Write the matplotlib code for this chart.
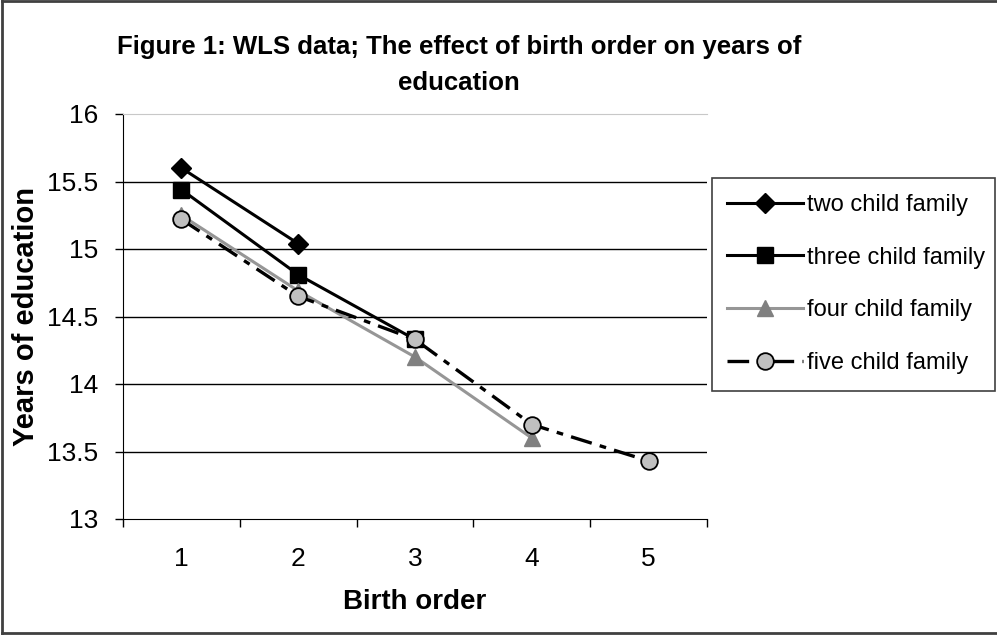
import matplotlib.pyplot as plt
from matplotlib.patches import Rectangle
from matplotlib.lines import Line2D
from matplotlib.ticker import FixedLocator

plt.rcParams['font.family'] = ['Liberation Sans', 'DejaVu Sans']

birth_order = [1, 2, 3, 4, 5]
two_child = [15.60, 15.04]
three_child = [15.44, 14.81, 14.33]
four_child = [15.25, 14.69, 14.20, 13.60]
five_child = [15.22, 14.65, 14.33, 13.70, 13.43]
y_ticks = [13, 13.5, 14, 14.5, 15, 15.5, 16]
y_tick_labels = ['13', '13.5', '14', '14.5', '15', '15.5', '16']

W, H = 997, 635
fig = plt.figure(figsize=(W / 100, H / 100), dpi=100)
ax = fig.add_axes([123 / W, 1 - 519 / H, (707 - 123) / W, (519 - 114) / H])

# series
ax.plot(birth_order[:2], two_child, color='black', lw=2.2, marker='D', ms=10,
        mfc='black', mec='black', label='two child family', zorder=4)
ax.plot(birth_order[:3], three_child, color='black', lw=2.2, marker='s', ms=12,
        mfc='black', mec='black', label='three child family', zorder=4)
ax.plot(birth_order[:4], four_child, color='#969696', lw=2.2, marker='^', ms=12,
        mfc='#808080', mec='#808080', label='four child family', zorder=5)
ax.plot(birth_order, five_child, color='black', lw=2.4, dashes=(6.5, 2.5, 2.0, 2.5),
        marker='o', ms=12, mfc='#c0c0c0', mec='black', mew=1.3,
        label='five child family', zorder=6)

# axes styling (Excel-like)
ax.set_xlim(0.5, 5.5)
ax.set_ylim(13, 16)
ax.set_yticks(y_ticks)
ax.set_yticklabels(y_tick_labels)
ax.xaxis.set_major_locator(FixedLocator([0.5, 1.5, 2.5, 3.5, 4.5, 5.5]))
ax.xaxis.set_minor_locator(FixedLocator(birth_order))
ax.set_xticklabels([])
ax.set_xticklabels([str(b) for b in birth_order], minor=True)
ax.tick_params(axis='x', which='major', direction='out', length=6, width=1, color='black')
ax.tick_params(axis='x', which='minor', length=0, pad=20, labelsize=19)
ax.tick_params(axis='y', direction='out', length=6, width=1, pad=12, labelsize=19)

for yv in y_ticks[1:-1]:
    ax.axhline(yv, color='black', lw=1, zorder=1)

ax.spines['right'].set_visible(False)
ax.spines['top'].set_color('#c8c8c8')
ax.spines['left'].set_color('black')
ax.spines['bottom'].set_color('black')

ax.set_xlabel('Birth order', fontsize=20, fontweight='bold')
ax.set_ylabel('Years of education', fontsize=21, fontweight='bold')
ax.xaxis.set_label_coords(0.5, -0.172)
ax.yaxis.set_label_coords(-0.142, 0.5)

fig.text(459 / W, 1 - 65 / H,
         'Figure 1: WLS data; The effect of birth order on years of\neducation',
         ha='center', va='center', fontsize=18.5, fontweight='bold', linespacing=1.65)

# legend, frame drawn separately
fig.patches.append(Rectangle((712 / W, 1 - 391 / H), (995 - 712) / W, (391 - 178) / H,
                             transform=fig.transFigure, fill=False,
                             edgecolor='#404040', lw=1.2))
fig.legend(loc='upper left', bbox_to_anchor=(727 / W, 1 - 194 / H),
           fontsize=17, frameon=False, handlelength=3.2,
           handletextpad=0.2, labelspacing=1.3, borderpad=0,
           borderaxespad=0)

# chart area border (right edge cropped in the original)
for xs, ys in [([0.002, 0.002], [0.003, 0.998]),
               ([0.002, 1.0], [0.998, 0.998]),
               ([0.002, 1.0], [0.003, 0.003])]:
    fig.lines.append(Line2D(xs, ys, transform=fig.transFigure, color='#404040', lw=2))

fig.savefig('out.png', dpi=100)
